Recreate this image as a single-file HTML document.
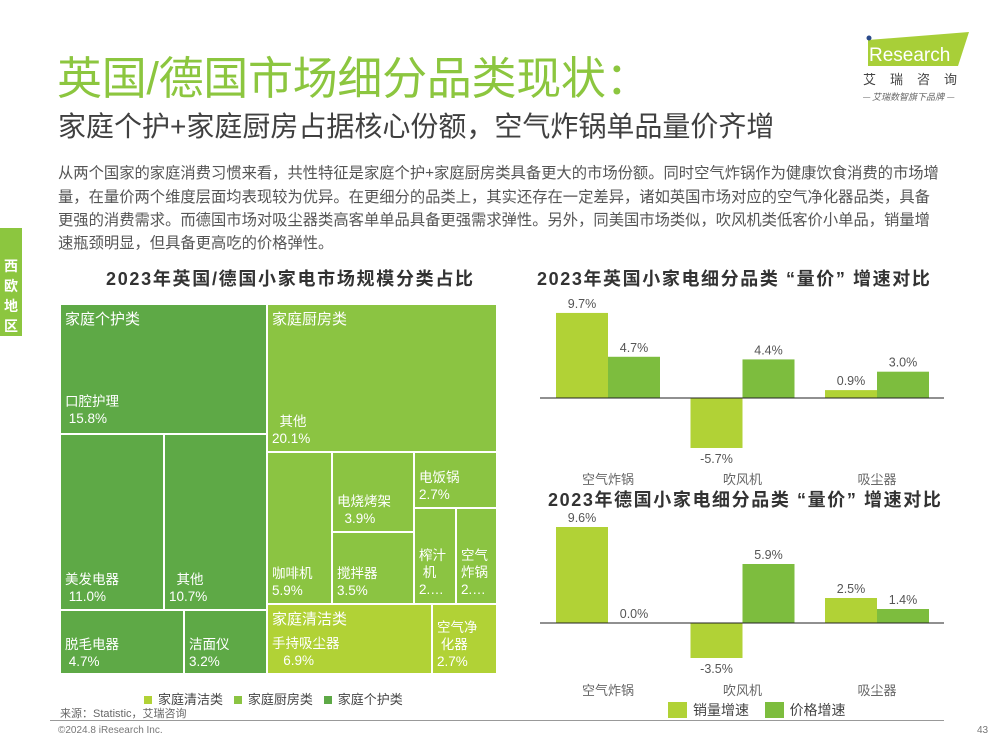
<!DOCTYPE html>
<html><head><meta charset="utf-8">
<style>
body{margin:0;width:1000px;height:750px;background:#fff;position:relative;overflow:hidden;font-family:"Liberation Sans","Noto Sans CJK SC",sans-serif;}
.a{position:absolute;white-space:nowrap;}
.tm{position:absolute;box-sizing:border-box;color:#fff;font-size:13.5px;line-height:17px;}
.tm .l{position:absolute;left:4px;}
.p{color:#555;font-size:15.3px;left:58px;}
</style></head><body>
<div class="a" style="left:57px;top:42px;font-size:45px;color:#8cc63f;letter-spacing:-0.3px;">英国/德国市场细分品类现状：</div>
<div class="a" style="left:58px;top:105px;font-size:28px;color:#404040;">家庭个护+家庭厨房占据核心份额，空气炸锅单品量价齐增</div>
<div class="a p" style="top:161px;">从两个国家的家庭消费习惯来看，共性特征是家庭个护+家庭厨房类具备更大的市场份额。同时空气炸锅作为健康饮食消费的市场增</div>
<div class="a p" style="top:185px;">量，在量价两个维度层面均表现较为优异。在更细分的品类上，其实还存在一定差异，诸如英国市场对应的空气净化器品类，具备</div>
<div class="a p" style="top:208px;">更强的消费需求。而德国市场对吸尘器类高客单单品具备更强需求弹性。另外，同美国市场类似，吹风机类低客价小单品，销量增</div>
<div class="a p" style="top:231px;">速瓶颈明显，但具备更高吃的价格弹性。</div>

<div class="a" style="left:0;top:228px;width:22px;height:108px;background:#8cc63f;color:#fff;font-size:14px;font-weight:bold;white-space:normal;text-align:center;line-height:20px;padding-top:28px;box-sizing:border-box;">西<br>欧<br>地<br>区</div>

<svg class="a" style="left:855px;top:25px;" width="130" height="85">
<polygon points="13,15 114,7 103,41 13,41" fill="#a8cf38"/>
<circle cx="14" cy="13" r="2.5" fill="#2a4a8a"/>
<text x="14" y="36" font-size="19" fill="#fff" font-family="Liberation Sans,sans-serif">Research</text>
<text x="8" y="59" font-size="13" fill="#444" letter-spacing="14" font-family="Noto Sans CJK SC,sans-serif">艾瑞咨询</text>
<text x="7" y="75" font-size="9" fill="#666" font-style="italic" font-family="Noto Sans CJK SC,sans-serif">— 艾瑞数智旗下品牌 —</text>
</svg>

<div class="a" style="left:106px;top:265px;font-size:18px;letter-spacing:1.7px;font-weight:bold;color:#333;">2023年英国/德国小家电市场规模分类占比</div>

<div>
<div class="tm" style="left:61px;top:305px;width:205px;height:128px;background:#5ea946;"><span class="l" style="top:6px;font-size:15px;">家庭个护类</span><span class="l" style="top:88px;">口腔护理<br>&nbsp;15.8%</span></div>
<div class="tm" style="left:61px;top:435px;width:102px;height:174px;background:#5ea946;"><span class="l" style="top:136px;">美发电器<br>&nbsp;11.0%</span></div>
<div class="tm" style="left:165px;top:435px;width:101px;height:174px;background:#5ea946;"><span class="l" style="top:136px;">&nbsp;&nbsp;其他<br>10.7%</span></div>
<div class="tm" style="left:61px;top:611px;width:122px;height:62px;background:#5ea946;"><span class="l" style="top:25px;">脱毛电器<br>&nbsp;4.7%</span></div>
<div class="tm" style="left:185px;top:611px;width:81px;height:62px;background:#5ea946;"><span class="l" style="top:25px;">洁面仪<br>3.2%</span></div>
<div class="tm" style="left:268px;top:305px;width:228px;height:146px;background:#8bc442;"><span class="l" style="top:6px;font-size:15px;">家庭厨房类</span><span class="l" style="top:108px;">&nbsp;&nbsp;其他<br>20.1%</span></div>
<div class="tm" style="left:268px;top:453px;width:63px;height:150px;background:#8bc442;"><span class="l" style="top:112px;">咖啡机<br>5.9%</span></div>
<div class="tm" style="left:333px;top:453px;width:80px;height:78px;background:#8bc442;"><span class="l" style="top:40px;">电烧烤架<br>&nbsp;&nbsp;3.9%</span></div>
<div class="tm" style="left:333px;top:533px;width:80px;height:70px;background:#8bc442;"><span class="l" style="top:32px;">搅拌器<br>3.5%</span></div>
<div class="tm" style="left:415px;top:453px;width:81px;height:54px;background:#8bc442;"><span class="l" style="top:16px;">电饭锅<br>2.7%</span></div>
<div class="tm" style="left:415px;top:509px;width:40px;height:94px;background:#8bc442;"><span class="l" style="top:38px;">榨汁<br>&nbsp;机<br>2.…</span></div>
<div class="tm" style="left:457px;top:509px;width:39px;height:94px;background:#8bc442;"><span class="l" style="top:38px;">空气<br>炸锅<br>2.…</span></div>
<div class="tm" style="left:268px;top:605px;width:163px;height:68px;background:#b1d236;"><span class="l" style="top:6px;font-size:15px;">家庭清洁类</span><span class="l" style="top:30px;">手持吸尘器<br>&nbsp;&nbsp;&nbsp;6.9%</span></div>
<div class="tm" style="left:433px;top:605px;width:63px;height:68px;background:#b1d236;"><span class="l" style="top:14px;">空气净<br>&nbsp;化器<br>2.7%</span></div>
</div>

<div class="a" style="left:144px;top:689px;font-size:13px;color:#444;">
<span><span style="display:inline-block;width:8px;height:8px;background:#b1d236;margin-right:6px;"></span>家庭清洁类</span>&nbsp;&nbsp;
<span><span style="display:inline-block;width:8px;height:8px;background:#8bc442;margin-right:6px;"></span>家庭厨房类</span>&nbsp;&nbsp;
<span><span style="display:inline-block;width:8px;height:8px;background:#5ea946;margin-right:6px;"></span>家庭个护类</span></div>
<div class="a" style="left:60px;top:705px;font-size:11px;color:#666;">来源：Statistic，艾瑞咨询</div>
<div class="a" style="left:50px;top:720px;width:894px;height:1px;background:#999;"></div>
<div class="a" style="left:58px;top:725px;font-size:10px;color:#777;">©2024.8 iResearch Inc.</div>
<div class="a" style="left:977px;top:725px;font-size:10px;color:#777;">43</div>

<div class="a" style="left:537px;top:265px;font-size:18px;letter-spacing:1.6px;font-weight:bold;color:#333;">2023年英国小家电细分品类 “量价” 增速对比</div>
<div class="a" style="left:548px;top:486px;font-size:18px;letter-spacing:1.6px;font-weight:bold;color:#333;">2023年德国小家电细分品类 “量价” 增速对比</div>

<svg id="bars" class="a" style="left:0;top:0;" width="1000" height="750"></svg>
<div class="a" style="left:668px;top:700px;font-size:14px;color:#444;">
<span><span style="display:inline-block;width:19px;height:16px;background:#b1d236;vertical-align:-3px;margin-right:6px;"></span>销量增速</span>&nbsp;&nbsp;&nbsp;
<span><span style="display:inline-block;width:19px;height:16px;background:#7dbd3e;vertical-align:-3px;margin-right:6px;"></span>价格增速</span></div>

<script>
const categories = ["空气炸锅","吹风机","吸尘器"];
const ukVolume = [9.7,-5.7,0.9];
const ukPrice = [4.7,4.4,3.0];
const deVolume = [9.6,-3.5,2.5];
const dePrice = [0.0,5.9,1.4];
const NS="http://www.w3.org/2000/svg";
const svg=document.getElementById('bars');
function mk(tag,attrs){const e=document.createElementNS(NS,tag);for(const k in attrs)e.setAttribute(k,attrs[k]);svg.appendChild(e);return e;}
function chart(prefix,vol,price,baseY,scale,catY){
  const x0=556,step=134.5,bw=52;
  const y=v=>baseY-v*scale;
  [[vol,'#b1d236',0,'volume'],[price,'#7dbd3e',1,'price']].forEach(([arr,col,off,nm])=>{
    arr.forEach((v,i)=>{
      const x=x0+i*step+off*bw;
      const r=mk('rect',{x:x,y:Math.min(y(v),baseY),width:bw,height:Math.abs(y(v)-baseY),fill:col});
      
      
      const ty=v>=0?y(v)-5:y(v)+15;
      const t=mk('text',{x:x+bw/2,y:ty,'text-anchor':'middle','font-size':12.5,fill:'#555'});
      t.textContent=v.toFixed(1)+'%';
      
      
    });
  });
  const ax=mk('line',{x1:540,x2:944,y1:baseY,y2:baseY,stroke:'#222','stroke-width':1});
  
  
  categories.forEach((c,i)=>{
    const t=mk('text',{x:x0+i*step+bw,y:catY,'text-anchor':'middle','font-size':13,fill:'#666','font-family':'Noto Sans CJK SC,sans-serif'});
    t.textContent=c;
    
    
  });
}
chart('uk',ukVolume,ukPrice,398,8.77,484);
chart('de',deVolume,dePrice,623,10,695);
</script>
</body></html>
